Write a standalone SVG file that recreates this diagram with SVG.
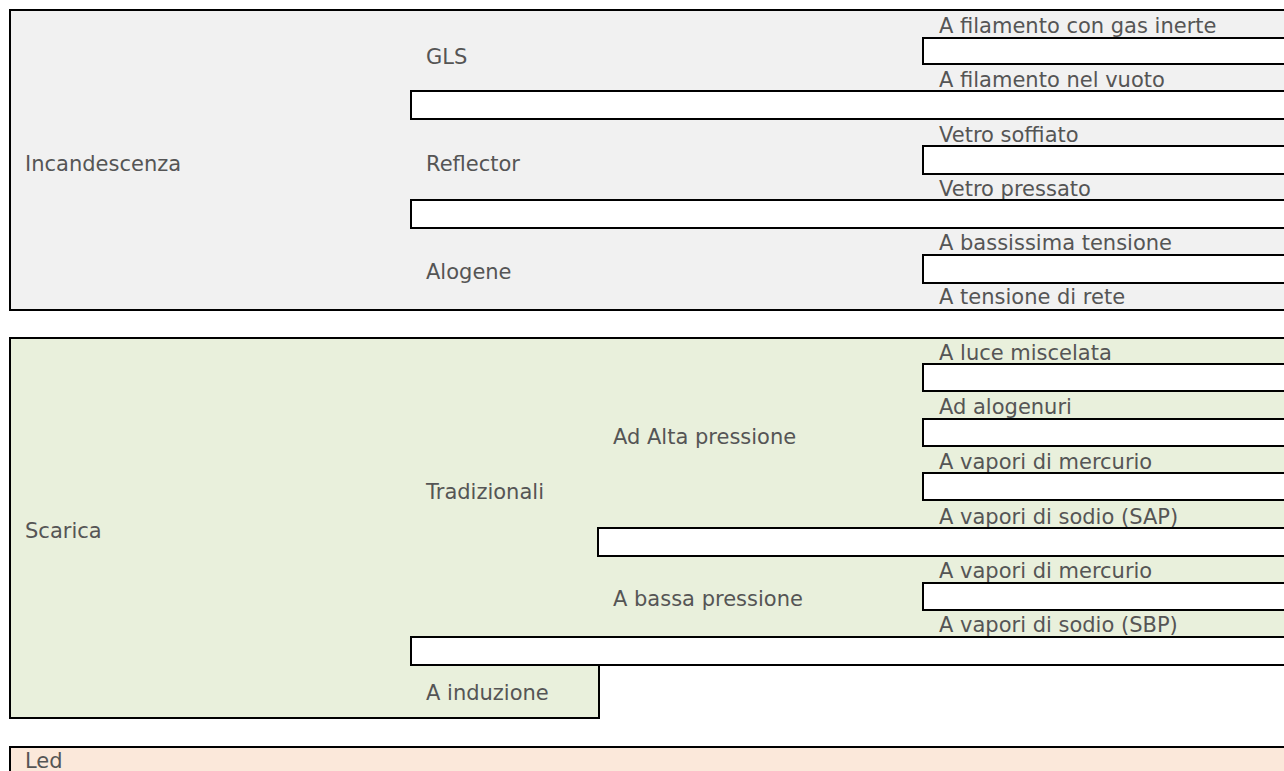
<svg xmlns="http://www.w3.org/2000/svg" width="1284" height="771" viewBox="0 0 1284 771">
  <style>
    .box { stroke: #000; stroke-width: 2; }
    .gray { fill: #f1f1f1; }
    .green { fill: #e9f0dc; }
    .peach { fill: #fbe8da; }
    .bar { fill: #ffffff; stroke: #000; stroke-width: 2; }
    text { font-family: "DejaVu Sans", Verdana, sans-serif; font-size: 21px; fill: #555555; }
  </style>
  <rect width="1284" height="771" fill="#ffffff"/>

  <!-- Incandescenza block -->
  <g id="incandescenza">
    <rect class="box gray" x="10" y="10" width="1300" height="300"/>
    <text x="25" y="171">Incandescenza</text>
  </g>
  <g id="gls"><text x="426" y="64">GLS</text></g>
  <g id="reflector"><text x="426" y="171">Reflector</text></g>
  <g id="alogene"><text x="426" y="279">Alogene</text></g>
  <g id="filamento-gas"><text x="939" y="33">A filamento con gas inerte</text></g>
  <g id="filamento-vuoto"><text x="939" y="87">A filamento nel vuoto</text></g>
  <g id="vetro-soffiato"><text x="939" y="142">Vetro soffiato</text></g>
  <g id="vetro-pressato"><text x="939" y="196">Vetro pressato</text></g>
  <g id="bassissima-tensione"><text x="939" y="250">A bassissima tensione</text></g>
  <g id="tensione-rete"><text x="939" y="304">A tensione di rete</text></g>

  <!-- Scarica block -->
  <g id="scarica">
    <path class="box green" d="M10,338 H1300 V637 H411 V665 H599 V718 H10 Z"/>
    <text x="25" y="538">Scarica</text>
  </g>
  <g id="tradizionali"><text x="426" y="499">Tradizionali</text></g>
  <g id="alta-pressione"><text x="613" y="444">Ad Alta pressione</text></g>
  <g id="bassa-pressione"><text x="613" y="606">A bassa pressione</text></g>
  <g id="induzione"><text x="426" y="700">A induzione</text></g>
  <g id="luce-miscelata"><text x="939" y="360">A luce miscelata</text></g>
  <g id="alogenuri"><text x="939" y="414">Ad alogenuri</text></g>
  <g id="vapori-mercurio-ap"><text x="939" y="469">A vapori di mercurio</text></g>
  <g id="sodio-sap"><text x="939" y="524">A vapori di sodio (SAP)</text></g>
  <g id="vapori-mercurio-bp"><text x="939" y="578">A vapori di mercurio</text></g>
  <g id="sodio-sbp"><text x="939" y="632">A vapori di sodio (SBP)</text></g>

  <!-- Led block -->
  <g id="led">
    <rect class="box peach" x="10" y="747" width="1300" height="40"/>
    <text x="25" y="768">Led</text>
  </g>

  <!-- separators between rows -->
  <g id="connectors">
    <rect class="bar" x="923" y="38" width="400" height="26"/>
    <rect class="bar" x="411" y="91" width="900" height="28"/>
    <rect class="bar" x="923" y="146" width="400" height="28"/>
    <rect class="bar" x="411" y="200" width="900" height="28"/>
    <rect class="bar" x="923" y="255" width="400" height="28"/>

    <rect class="bar" x="923" y="364" width="400" height="27"/>
    <rect class="bar" x="923" y="419" width="400" height="27"/>
    <rect class="bar" x="923" y="473" width="400" height="27"/>
    <rect class="bar" x="598" y="528" width="700" height="28"/>
    <rect class="bar" x="923" y="583" width="400" height="27"/>
    <rect class="bar" x="411" y="637" width="900" height="28"/>
  </g>
</svg>
